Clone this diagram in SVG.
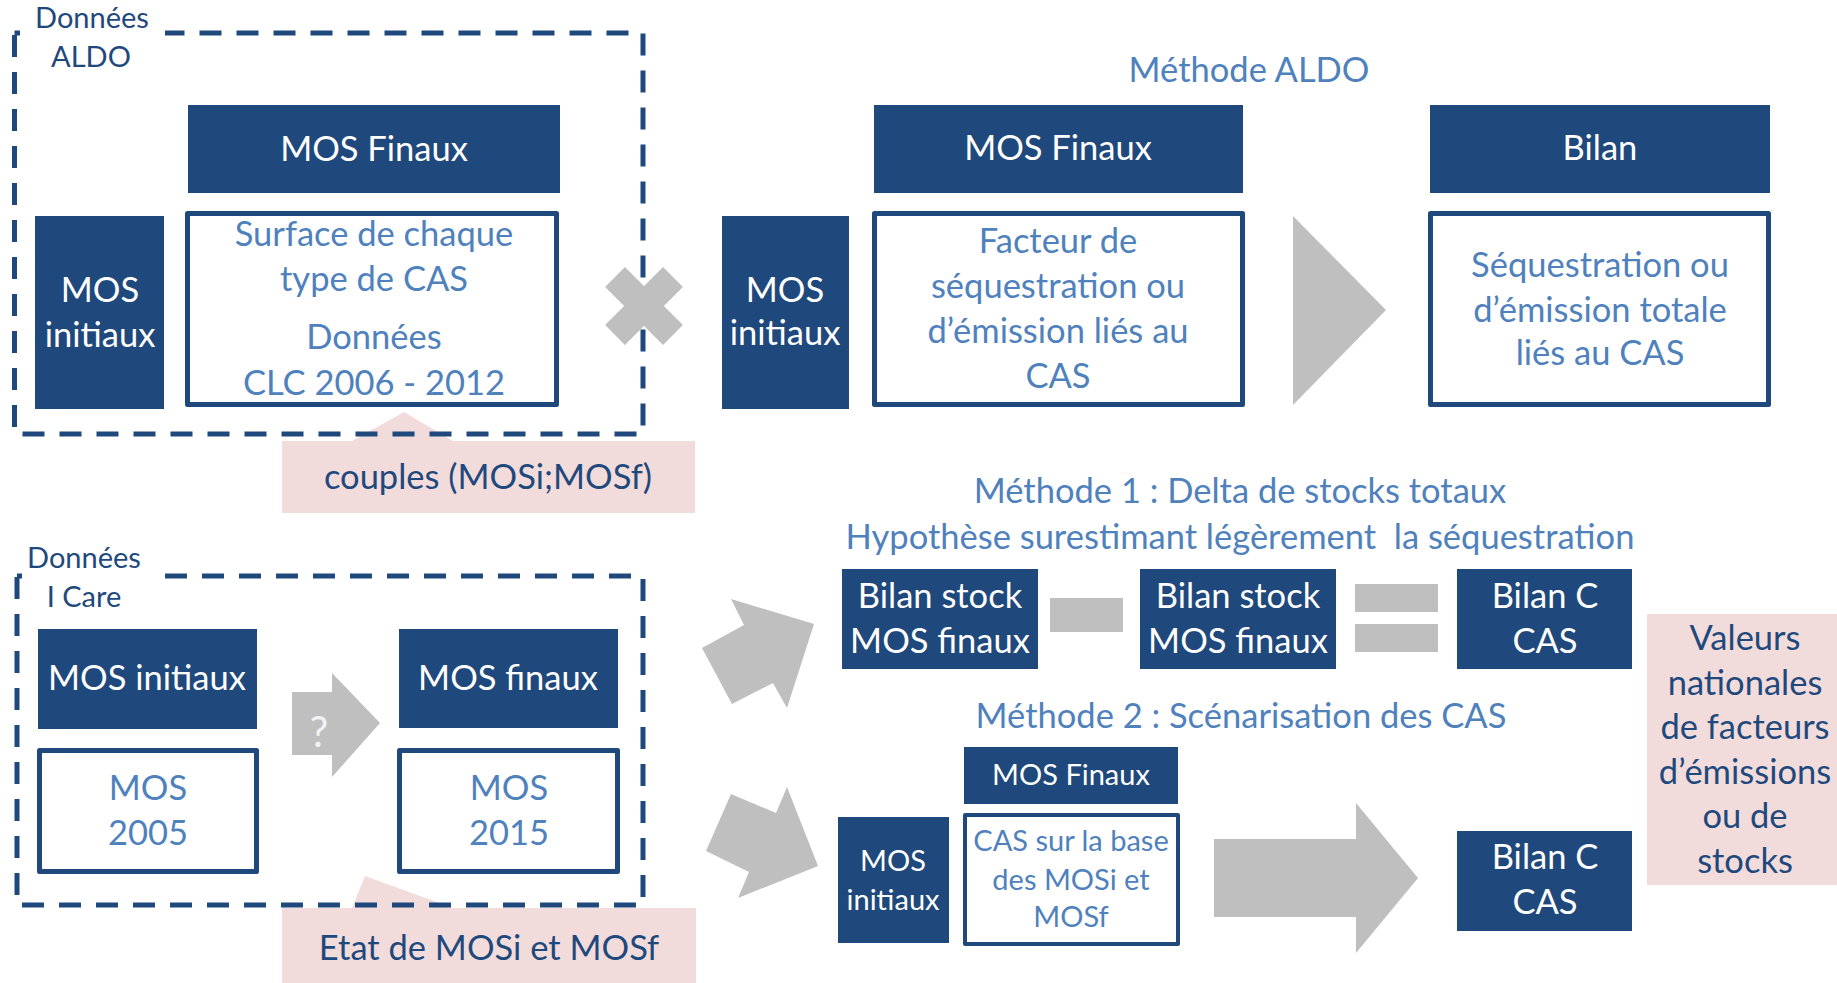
<svg xmlns="http://www.w3.org/2000/svg" width="1837" height="983" viewBox="0 0 1837 983">
  <style>
    text { font-family: Lato, "Open Sans", "Liberation Sans", sans-serif; text-anchor: middle; }
    .navy { fill: #1F497D; }
    .frame { fill: #FFFFFF; stroke: #1F497D; stroke-width: 5; stroke-linejoin: round; }
    .dash { fill: none; stroke: #1F497D; stroke-width: 5; stroke-dasharray: 22 15; }
    .gray { fill: #BFBFBF; }
    .pink { fill: #F2DCDB; }
    .w { fill: #FFFFFF; font-size: 34.5px; }
    .ws { fill: #FFFFFF; font-size: 29px; }
    .b { fill: #4F81BD; font-size: 34.5px; }
    .bs { fill: #4F81BD; font-size: 29px; }
    .d { fill: #1F497D; font-size: 34.5px; }
    .lbl { fill: #1F497D; font-size: 29px; }
  </style>

  <!-- callouts sit under the dashed frames -->
  <g id="callout-couples">
    <path class="pink" d="M282,441 H352 L404,412 L453,441 H695 V513 H282 Z"/>
    <text class="d" x="488" y="489">couples (MOSi;MOSf)</text>
  </g>
  <g id="callout-etat">
    <path class="pink" d="M282,908 H352 L365,876 L453,908 H696 V983 H282 Z"/>
    <text class="d" x="489" y="960">Etat de MOSi et MOSf</text>
  </g>

  <!-- data source frames -->
  <g id="frame-aldo">
    <rect class="dash" x="14.5" y="33" width="628.5" height="401"/>
    <rect x="20" y="0" width="145" height="80" fill="#FFFFFF"/>
    <text class="lbl" x="92" y="28">Données</text>
    <text class="lbl" x="91" y="67">ALDO</text>
  </g>
  <g id="frame-icare">
    <rect class="dash" x="17" y="576" width="626" height="329"/>
    <rect x="22" y="540" width="138" height="80" fill="#FFFFFF"/>
    <text class="lbl" x="84" y="568">Données</text>
    <text class="lbl" x="84" y="607">I Care</text>
  </g>

  <!-- ALDO data block -->
  <g id="aldo-mos-finaux">
    <rect class="navy" x="188" y="105" width="372" height="88"/>
    <text class="w" x="374" y="161">MOS Finaux</text>
  </g>
  <g id="aldo-mos-initiaux">
    <rect class="navy" x="35" y="216" width="129" height="193"/>
    <text class="w" x="100" y="302">MOS</text>
    <text class="w" x="100" y="347">initiaux</text>
  </g>
  <g id="aldo-surface">
    <rect class="frame" x="187.5" y="213.5" width="369" height="191"/>
    <text class="b" x="374" y="246">Surface de chaque</text>
    <text class="b" x="374" y="291">type de CAS</text>
    <text class="b" x="374" y="349">Données</text>
    <text class="b" x="374" y="395">CLC 2006 - 2012</text>
  </g>

  <!-- Méthode ALDO -->
  <g id="methode-aldo">
    <text class="b" x="1249" y="82">Méthode ALDO</text>
  </g>
  <g id="ma-mos-finaux">
    <rect class="navy" x="874" y="105" width="369" height="88"/>
    <text class="w" x="1058" y="160">MOS Finaux</text>
  </g>
  <g id="ma-bilan">
    <rect class="navy" x="1430" y="105" width="340" height="88"/>
    <text class="w" x="1600" y="160">Bilan</text>
  </g>
  <g id="ma-mos-initiaux">
    <rect class="navy" x="722" y="216" width="127" height="193"/>
    <text class="w" x="785" y="302">MOS</text>
    <text class="w" x="785" y="345">initiaux</text>
  </g>
  <g id="ma-facteur">
    <rect class="frame" x="874.5" y="213.5" width="368" height="191"/>
    <text class="b" x="1058" y="253">Facteur de</text>
    <text class="b" x="1058" y="298">séquestration ou</text>
    <text class="b" x="1058" y="343">d’émission liés au</text>
    <text class="b" x="1058" y="388">CAS</text>
  </g>
  <g id="ma-sequestration">
    <rect class="frame" x="1430.5" y="213.5" width="338" height="191"/>
    <text class="b" x="1600" y="277">Séquestration ou</text>
    <text class="b" x="1600" y="322">d’émission totale</text>
    <text class="b" x="1600" y="365">liés au CAS</text>
  </g>

  <!-- I Care data block -->
  <g id="ic-mos-initiaux">
    <rect class="navy" x="38" y="629" width="219" height="100"/>
    <text class="w" x="147" y="690">MOS initiaux</text>
  </g>
  <g id="ic-mos-finaux">
    <rect class="navy" x="399" y="629" width="219" height="99"/>
    <text class="w" x="508" y="690">MOS finaux</text>
  </g>
  <g id="ic-mos-2005">
    <rect class="frame" x="39.5" y="750.5" width="217" height="121"/>
    <text class="b" x="148" y="800">MOS</text>
    <text class="b" x="148" y="845">2005</text>
  </g>
  <g id="ic-mos-2015">
    <rect class="frame" x="399.5" y="750.5" width="218" height="121"/>
    <text class="b" x="509" y="800">MOS</text>
    <text class="b" x="509" y="845">2015</text>
  </g>

  <!-- Méthode 1 -->
  <g id="methode-1">
    <text class="b" x="1240" y="503">Méthode 1 : Delta de stocks totaux</text>
    <text class="b" x="1240" y="549" style="white-space:pre">Hypothèse surestimant légèrement  la séquestration</text>
  </g>
  <g id="m1-bilan-stock-a">
    <rect class="navy" x="842" y="569" width="196" height="100"/>
    <text class="w" x="940" y="608">Bilan stock</text>
    <text class="w" x="940" y="653">MOS finaux</text>
  </g>
  <g id="m1-bilan-stock-b">
    <rect class="navy" x="1140" y="569" width="196" height="100"/>
    <text class="w" x="1238" y="608">Bilan stock</text>
    <text class="w" x="1238" y="653">MOS finaux</text>
  </g>
  <g id="m1-bilan-c">
    <rect class="navy" x="1457" y="569" width="175" height="100"/>
    <text class="w" x="1545" y="608">Bilan C</text>
    <text class="w" x="1545" y="653">CAS</text>
  </g>

  <!-- Méthode 2 -->
  <g id="methode-2">
    <text class="b" x="1241" y="728">Méthode 2 : Scénarisation des CAS</text>
  </g>
  <g id="m2-mos-finaux">
    <rect class="navy" x="964" y="747" width="214" height="57"/>
    <text class="ws" x="1071" y="785">MOS Finaux</text>
  </g>
  <g id="m2-mos-initiaux">
    <rect class="navy" x="838" y="817" width="111" height="126"/>
    <text class="ws" x="893" y="871">MOS</text>
    <text class="ws" x="893" y="910">initiaux</text>
  </g>
  <g id="m2-cas">
    <rect class="frame" x="965" y="815" width="213" height="129" style="stroke-width:4"/>
    <text class="bs" x="1071" y="851">CAS sur la base</text>
    <text class="bs" x="1071" y="890">des MOSi et</text>
    <text class="bs" x="1071" y="927">MOSf</text>
  </g>
  <g id="m2-bilan-c">
    <rect class="navy" x="1457" y="831" width="175" height="100"/>
    <text class="w" x="1545" y="869">Bilan C</text>
    <text class="w" x="1545" y="914">CAS</text>
  </g>

  <!-- reference values -->
  <g id="valeurs">
    <rect class="pink" x="1647" y="614" width="190" height="271"/>
    <text class="d" x="1745" y="650">Valeurs</text>
    <text class="d" x="1745" y="695">nationales</text>
    <text class="d" x="1745" y="739">de facteurs</text>
    <text class="d" x="1745" y="784">d’émissions</text>
    <text class="d" x="1745" y="828">ou de</text>
    <text class="d" x="1745" y="873">stocks</text>
  </g>

  <!-- operators and flow arrows -->
  <g id="connectors">
    <g transform="translate(644 306) rotate(45)">
      <rect class="gray" x="-41" y="-14" width="82" height="28"/>
      <rect class="gray" x="-14" y="-41" width="28" height="82"/>
    </g>
    <polygon class="gray" points="1293,216 1386,310 1293,405"/>
    <polygon class="gray" points="292,692 332,692 332,673 380,723 332,777 332,755 292,755"/>
    <text x="319" y="747" style="fill:#F2F2F2;font-size:42px">?</text>
    <polygon class="gray" points="702,648 744,625 731,599 814,624 787,708 773,683 732,704"/>
    <polygon class="gray" points="731,794 776,813 787,787 818,866 738,898 749,872 706,851"/>
    <rect class="gray" x="1050" y="598" width="73" height="34"/>
    <rect class="gray" x="1355" y="584" width="83" height="28"/>
    <rect class="gray" x="1355" y="624" width="83" height="28"/>
    <polygon class="gray" points="1214,839 1356,839 1356,803 1418,878 1356,953 1356,917 1214,917"/>
  </g>
</svg>
